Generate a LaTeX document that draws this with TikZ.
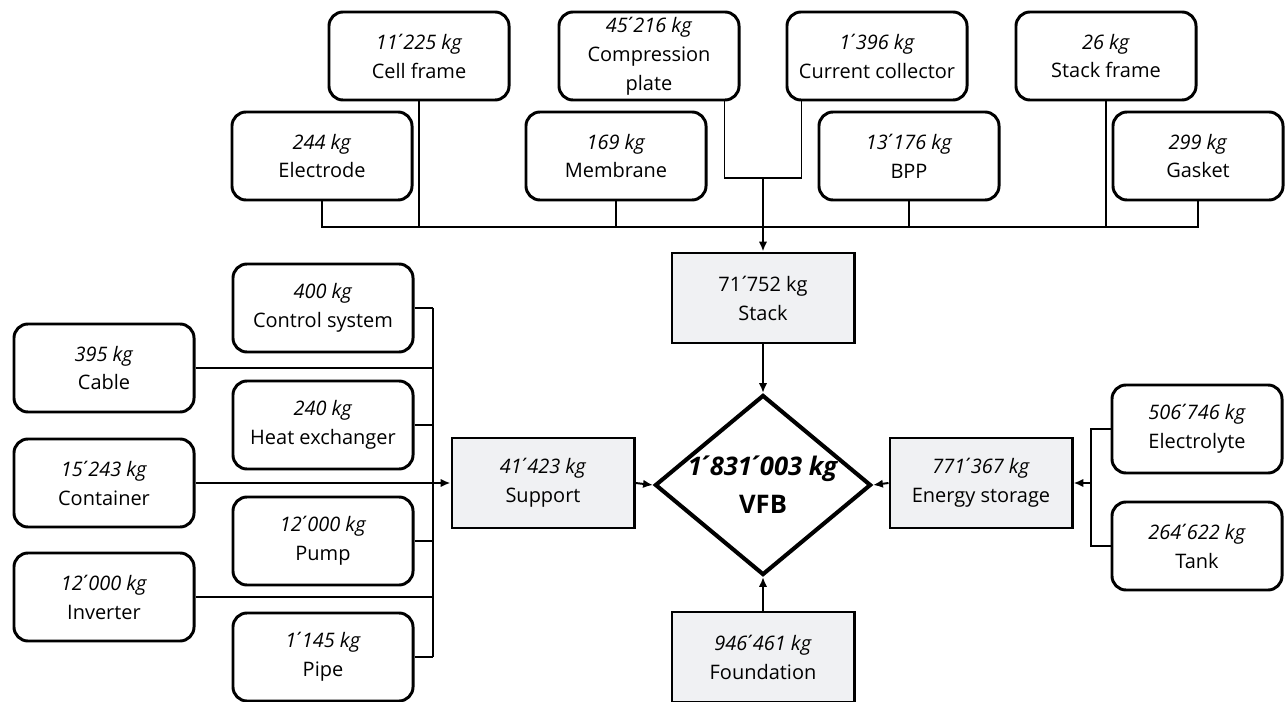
\documentclass[tikz,border=0pt]{standalone}
\usepackage{fontspec}
\setmainfont{Open Sans}
\usepackage{tikz}
\usetikzlibrary{shapes.geometric,arrows.meta,positioning}

\definecolor{boxgray}{RGB}{240,241,243}
\newcommand{\partfont}{\fontsize{14.2}{20.6}\selectfont}
\newcommand{\totalfont}{\fontsize{18.2}{27}\selectfont\bfseries}
% thousands mark for the masses
\newcommand{\tk}{\kern-0.13em\textup{´}\kern-0.17em}

\begin{document}
\begin{tikzpicture}[
    x=0.025cm, y=-0.025cm,
    part/.style={
        rectangle,
        rounded corners=10pt,
        draw=black,
        line width=2.1pt,
        minimum width=4.5cm,
        minimum height=2.2cm,
        inner sep=0pt,
        align=center,
        font=\partfont
    },
    narrowpart/.style={
        part,
        minimum width=4.25cm
    },
    group/.style={
        rectangle,
        draw=black,
        fill=boxgray,
        line width=2.1pt,
        minimum width=4.55cm,
        minimum height=2.25cm,
        inner sep=0pt,
        align=center,
        font=\partfont
    },
    total/.style={
        diamond,
        draw=black,
        line width=2.9pt,
        minimum width=5.4cm,
        minimum height=4.5cm,
        inner sep=-8pt,
        align=center,
        font=\totalfont
    },
    link/.style={
        line width=1.4pt
    },
    arr/.style={
        link,
        -{Latex[length=7pt,width=6pt]}
    }
]
\useasboundingbox (0,0) rectangle (1285,702);

% Stack parts, upper row
\node[part] (cellframe)  at (419,56)  {\textit{11\tk225 kg}\\Cell frame};
\node[part] (compplate)  at (649,56)  {\textit{45\tk216 kg}\\Compression\\plate};
\node[part] (collector)  at (877,56)  {\textit{1\tk396 kg}\\Current collector};
\node[part] (stackframe) at (1106,56) {\textit{26 kg}\\Stack frame};

% Stack parts, lower row
\node[part] (electrode)    at (322,156)  {\textit{244 kg}\\Electrode};
\node[part] (membrane)     at (616,156)  {\textit{169 kg}\\Membrane};
\node[part] (bpp)          at (909,156)  {\textit{13\tk176 kg}\\BPP};
\node[narrowpart] (gasket) at (1198,156) {\textit{299 kg}\\Gasket};

% Support parts, inner column
\node[part] (control) at (323,308) {\textit{400 kg}\\Control system};
\node[part] (heatex)  at (323,425) {\textit{240 kg}\\Heat exchanger};
\node[part] (pump)    at (323,541) {\textit{12\tk000 kg}\\Pump};
\node[part] (pipe)    at (323,657) {\textit{1\tk145 kg}\\Pipe};

% Support parts, outer column
\node[part] (cable)     at (104,368) {\textit{395 kg}\\Cable};
\node[part] (container) at (104,483) {\textit{15\tk243 kg}\\Container};
\node[part] (inverter)  at (104,597) {\textit{12\tk000 kg}\\Inverter};

% Energy storage parts
\node[narrowpart] (electrolyte) at (1197,429) {\textit{506\tk746 kg}\\Electrolyte};
\node[narrowpart] (tank)        at (1197,546) {\textit{264\tk622 kg}\\Tank};

% Groups and total
\node[group] (stack)      at (763,298) {71\tk752 kg\\Stack};
\node[group] (support)    at (543,483) {\textit{41\tk423 kg}\\Support};
\node[group] (energy)     at (981,483) {\textit{771\tk367 kg}\\Energy storage};
\node[group] (foundation) at (763,657) {\textit{946\tk461 kg}\\Foundation};
\node[total] (vfb)        at (763,485) {\textit{1\tk831\tk003 kg}\\VFB};

% Bus lines
\coordinate (topbus)    at (0,227);
\coordinate (platejoin) at (763,178);
\coordinate (leftbus)   at (433,0);
\coordinate (rightbus)  at (1091,0);

% Stack connectors
\draw[link] (electrode.south) -- (electrode.south |- topbus) -- (gasket.south |- topbus) -- (gasket.south);
\foreach \n in {cellframe,membrane,bpp,stackframe}
    \draw[link] (\n.south) -- (\n.south |- topbus);
\draw[link] ([xshift=-0.4cm]compplate.south east) |- (platejoin) -| ([xshift=0.4cm]collector.south west);
\draw[arr] (platejoin) -- (stack.north);

% Support connectors
\draw[link] (control.east -| leftbus) -- (pipe.east -| leftbus);
\foreach \n in {control,heatex,pump,pipe,cable,inverter}
    \draw[link] (\n.east) -- (\n.east -| leftbus);
\draw[arr] (container.east) -- (support.west);

% Energy storage connectors
\draw[link] (electrolyte.west) -- (electrolyte.west -| rightbus) -- (tank.west -| rightbus) -- (tank.west);
\draw[arr] (energy.east -| rightbus) -- (energy.east);

% Into the total
\draw[arr] (stack.south) -- (vfb.north);
\draw[arr] (support.east) -- (vfb.west);
\draw[arr] (energy.west) -- (vfb.east);
\draw[arr] (foundation.north) -- (vfb.south);

\end{tikzpicture}
\end{document}
